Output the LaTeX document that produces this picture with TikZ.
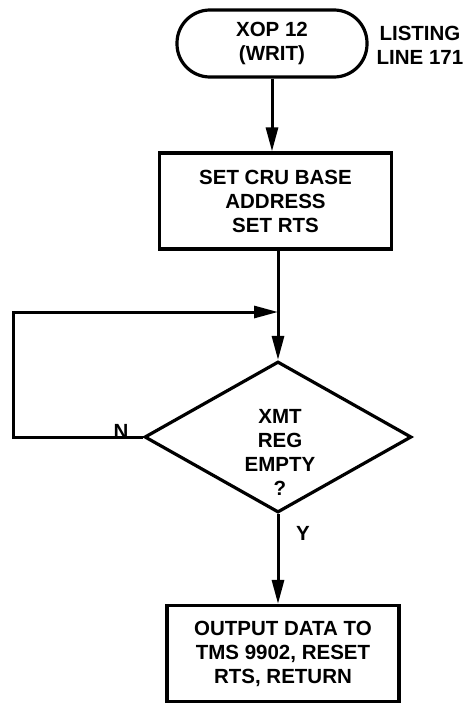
\documentclass[tikz,border=0pt]{standalone}
\usepackage{fontspec}
\setmainfont{Liberation Sans}
\usetikzlibrary{arrows.meta,shapes.geometric}
\begin{document}
\begin{tikzpicture}[x=1pt,y=-1pt,
  every node/.style={font=\bfseries\fontsize{20.5}{24}\selectfont, align=center, inner sep=0pt},
  box/.style={draw, line width=3.2pt, minimum width=232pt, minimum height=96pt},
  term/.style={draw, line width=3.2pt, minimum width=190pt, minimum height=67pt, rounded corners=33pt},
  dec/.style={draw, diamond, line width=3.2pt, minimum width=267pt, minimum height=151pt},
  conn/.style={line width=3pt},
  arr/.style={conn, -{Triangle[length=24pt,width=12pt]}},
  lbl/.style={}
]
\useasboundingbox (0,0) rectangle (473,704);
\node[term] (start) at (272,43.5) {XOP 12\\(WRIT)};
\node[lbl] (listing) at (420,45) {LISTING\\LINE 171};
\node[box] (setcru) at (275.5,201) {SET CRU BASE\\ADDRESS\\SET RTS};
\node[dec] (xmt) at (278,437) {};
\node[lbl] (xmttext) at (280,452) {XMT\\REG\\EMPTY\\?};
\node[box] (output) at (283,653.5) {OUTPUT DATA TO\\TMS 9902, RESET\\RTS, RETURN};
\coordinate (loopc) at (13,312);
\node[lbl] (nlabel) at (121,431) {N};
\node[lbl] (ylabel) at (303,533) {Y};

\draw[arr] (start.south) -- (start.south |- setcru.north);
\draw[arr] (setcru.south -| xmt.north) -- (xmt.north);
\draw[arr] (xmt.west) -| (loopc) -- (loopc -| xmt.north);
\draw[arr] (xmt.south) -- (xmt.south |- output.north);
\end{tikzpicture}
\end{document}
